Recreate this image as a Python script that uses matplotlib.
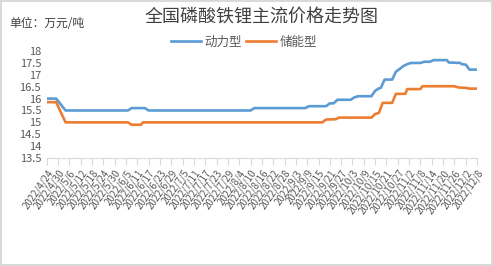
#!/usr/bin/env python3
"""
LFP (lithium iron phosphate) mainstream price trend, 2022
"""

import datetime as dt
import matplotlib
matplotlib.use("Agg")
import matplotlib.pyplot as plt
from matplotlib.ticker import FuncFormatter, MultipleLocator

plt.rcParams['font.family'] = ['Noto Sans CJK SC', 'DejaVu Sans']

# 动力型 (power type) - change points
power_dates = ["2022-04-24", "2022-04-29", "2022-05-04", "2022-06-06", "2022-06-08",
               "2022-06-15", "2022-06-17", "2022-08-10", "2022-08-12", "2022-09-08",
               "2022-09-10", "2022-09-19", "2022-09-21", "2022-09-23", "2022-09-25",
               "2022-10-02", "2022-10-04", "2022-10-06", "2022-10-13", "2022-10-15",
               "2022-10-17", "2022-10-18", "2022-10-20", "2022-10-24", "2022-10-26",
               "2022-10-28", "2022-10-30", "2022-11-01", "2022-11-03", "2022-11-08",
               "2022-11-10", "2022-11-13", "2022-11-15", "2022-11-22", "2022-11-23",
               "2022-11-29", "2022-11-30", "2022-12-02", "2022-12-04", "2022-12-08"]
power_prices = [16.0, 16.0, 15.5, 15.5, 15.6,
                15.6, 15.5, 15.5, 15.6, 15.6,
                15.68, 15.68, 15.8, 15.8, 15.95,
                15.95, 16.05, 16.1, 16.1, 16.33,
                16.43, 16.45, 16.8, 16.8, 17.13,
                17.25, 17.37, 17.45, 17.5, 17.5,
                17.55, 17.55, 17.62, 17.62, 17.52,
                17.5, 17.45, 17.43, 17.22, 17.22]

# 储能型 (storage type)
storage_dates = ["2022-04-24", "2022-04-29", "2022-05-04", "2022-06-06", "2022-06-08",
                 "2022-06-13", "2022-06-14", "2022-09-17", "2022-09-19", "2022-09-24",
                 "2022-09-26", "2022-10-13", "2022-10-15", "2022-10-17", "2022-10-19",
                 "2022-10-24", "2022-10-26", "2022-10-31", "2022-11-01", "2022-11-08",
                 "2022-11-09", "2022-11-26", "2022-11-28", "2022-12-02", "2022-12-04",
                 "2022-12-08"]
storage_prices = [15.85, 15.85, 15.0, 15.0, 14.9,
                  14.9, 15.0, 15.0, 15.12, 15.13,
                  15.2, 15.2, 15.35, 15.4, 15.82,
                  15.82, 16.2, 16.2, 16.4, 16.4,
                  16.52, 16.52, 16.47, 16.45, 16.42,
                  16.42]

start_date = "2022-04-24"
end_date = "2022-12-08"


def to_dates(items):
    return [dt.datetime.strptime(s, "%Y-%m-%d") for s in items]


def main():
    fig = plt.figure(figsize=(4.93, 2.66), dpi=100)
    fig.patch.set_edgecolor('#D9D9D9')
    fig.patch.set_linewidth(1.5)
    ax = fig.add_axes([0.0947, 0.406, 0.873, 0.402])

    blue, orange = '#5B9BD5', '#ED7D31'
    ax.plot(to_dates(power_dates), power_prices, color=blue, lw=1.9, label='动力型')
    ax.plot(to_dates(storage_dates), storage_prices, color=orange, lw=1.9, label='储能型')

    x0, x1 = to_dates([start_date, end_date])
    ax.set_xlim(x0, x1)
    ax.set_ylim(13.5, 18)
    ax.yaxis.set_major_locator(MultipleLocator(0.5))
    ax.yaxis.set_major_formatter(FuncFormatter(lambda v, p: f"{v:g}"))

    ticks = [x0 + dt.timedelta(days=d) for d in range(0, (x1 - x0).days + 1, 6)]
    ax.set_xticks(ticks)
    ax.set_xticklabels([f"{t.year}/{t.month}/{t.day}" for t in ticks],
                       rotation=55, ha='right', va='top', rotation_mode='anchor',
                       fontsize=7, color='#595959')

    for s in ['top', 'right', 'left']:
        ax.spines[s].set_visible(False)
    ax.spines['bottom'].set_color('#D9D9D9')
    ax.tick_params(axis='x', length=5, color='#D9D9D9', pad=2)
    ax.tick_params(axis='y', length=0, labelsize=8, labelcolor='#595959', pad=4)

    fig.text(0.53, 0.935, '全国磷酸铁锂主流价格走势图', ha='center', va='center',
             fontsize=13, color='#404040')
    fig.text(0.02, 0.91, '单位：万元/吨', ha='left', va='center', fontsize=8.5,
             color='#404040')
    fig.legend(loc='center', bbox_to_anchor=(0.495, 0.842), ncol=2, frameon=False,
               fontsize=9, handlelength=2.4, columnspacing=0.3, handletextpad=0.3,
               labelcolor='#595959')

    plt.savefig("out.png", dpi=100)


if __name__ == "__main__":
    main()
